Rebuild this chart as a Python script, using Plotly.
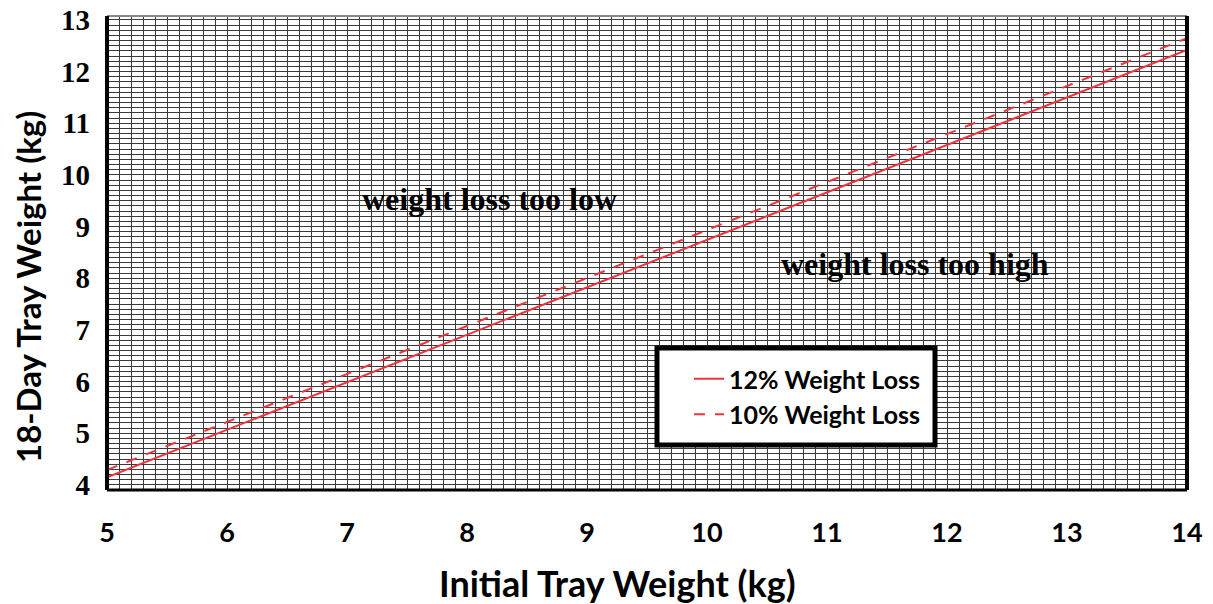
import plotly.graph_objects as go

# Data
initial_weight = [5, 14]
loss12_weight = [4.15, 12.42]
loss10_weight = [4.29, 12.65]
series_names = ["12% Weight Loss", "10% Weight Loss"]
x_ticks = [5, 6, 7, 8, 9, 10, 11, 12, 13, 14]
y_ticks = [4, 5, 6, 7, 8, 9, 10, 11, 12, 13]
x_title = "Initial Tray Weight (kg)"
y_title = "18-Day Tray Weight (kg)"
note_low = ("weight loss too low", 8.19, 9.535)
note_high = ("weight loss too high", 11.73, 8.28)

RED = "#f0323c"
SANS = "Lato, 'Noto Sans', sans-serif"
SERIF = "'Liberation Serif', 'DejaVu Serif', serif"

fig = go.Figure()
fig.add_trace(go.Scatter(x=initial_weight, y=loss12_weight, mode="lines",
                         name=series_names[0], line=dict(color=RED, width=2)))
fig.add_trace(go.Scatter(x=initial_weight, y=loss10_weight, mode="lines",
                         name=series_names[1],
                         line=dict(color=RED, width=2, dash="11px,10px")))

for text, ax_, ay_ in (note_low, note_high):
    fig.add_annotation(x=ax_, y=ay_, text=text, showarrow=False,
                       font=dict(family=SERIF, size=32, color="black", weight="bold"))

# axis titles (placed off-centre as in the reference)
fig.add_annotation(xref="paper", yref="paper", x=(617 - 107) / 1080, y=(490 - 583) / 474,
                   text=x_title, showarrow=False, xanchor="center", yanchor="middle",
                   font=dict(family=SANS, size=36, color="black", weight="bold"))
fig.add_annotation(xref="paper", yref="paper", x=(28 - 107) / 1080, y=(490 - 287) / 474,
                   text=y_title, showarrow=False, xanchor="center", yanchor="middle",
                   textangle=-90,
                   font=dict(family=SANS, size=33, color="black", weight="bold"))

# plot border
fig.add_shape(type="line", xref="x domain", yref="y domain", x0=0, x1=1, y0=1, y1=1,
              line=dict(color="#888888", width=2), layer="above")
fig.add_shape(type="line", xref="x domain", yref="y domain", x0=0, x1=1, y0=0, y1=0,
              line=dict(color="black", width=3), layer="above")
fig.add_shape(type="line", xref="x domain", yref="y domain", x0=0, x1=0, y0=0, y1=1,
              line=dict(color="black", width=4), layer="above")
fig.add_shape(type="line", xref="x domain", yref="y domain", x0=1, x1=1, y0=0, y1=1,
              line=dict(color="black", width=4), layer="above")
# legend box
fig.add_shape(type="rect", xref="paper", yref="paper",
              x0=(657 - 107) / 1080, x1=(935 - 107) / 1080,
              y0=(490 - 445) / 474, y1=(490 - 348) / 474,
              line=dict(color="black", width=5), fillcolor="white", layer="above")

grid = "#3a3a3a"
fig.update_layout(
    width=1213, height=604,
    margin=dict(l=107, r=26, t=16, b=114),
    paper_bgcolor="white", plot_bgcolor="white",
    showlegend=True,
    legend=dict(x=(689 - 107) / 1080, y=(490 - 356) / 474, xanchor="left", yanchor="top",
                bgcolor="rgba(0,0,0,0)", borderwidth=0,
                font=dict(family=SANS, size=25, color="black", weight="bold"),
                tracegroupgap=0),
    xaxis=dict(range=[5, 14], tickvals=x_ticks, ticktext=[str(v) for v in x_ticks],
               tickfont=dict(family=SANS, size=27, color="black", weight="bold"),
               ticks="", ticklabelstandoff=24, automargin=False, ticklabeloverflow="allow",
               showgrid=True, gridcolor=grid, gridwidth=1,
               minor=dict(dtick=0.1, tick0=5, showgrid=True, gridcolor=grid, gridwidth=1),
               zeroline=False, showline=False),
    yaxis=dict(range=[3.903, 13.077], tickvals=y_ticks, ticktext=[str(v) for v in y_ticks],
               tickfont=dict(family=SERIF, size=29, color="black", weight="bold"),
               ticks="", ticklabelstandoff=16, automargin=False, ticklabeloverflow="allow",
               showgrid=True, gridcolor=grid, gridwidth=1,
               minor=dict(dtick=0.1, tick0=4, showgrid=True, gridcolor=grid, gridwidth=1),
               zeroline=False, showline=False),
)

fig.write_html("out.html", config={"displayModeBar": False},
               post_script="document.body.style.margin='0';")
